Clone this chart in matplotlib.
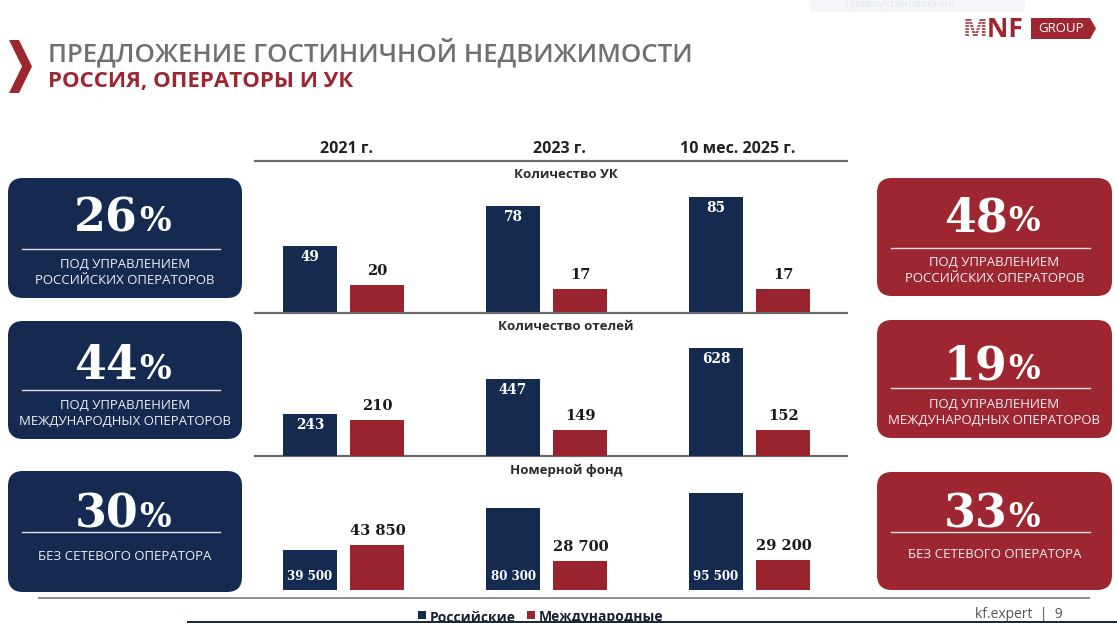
import matplotlib
matplotlib.use('Agg')
import matplotlib.pyplot as plt
from matplotlib.patches import FancyBboxPatch, Polygon, Rectangle

W, H = 1117, 623
NAVY = '#152a50'
RED = '#9e2631'
BAR_NAVY = '#142a4e'
BAR_RED = '#9a242d'
TITLE_GRAY = '#707070'
LINE_GRAY = '#6a6a6a'

# ---------------- data ----------------
years = ['2021 г.', '2023 г.', '10 мес. 2025 г.']
panel_titles = ['Количество УК', 'Количество отелей', 'Номерной фонд']
russian_uk = [49, 78, 85]
intl_uk = [20, 17, 17]
russian_hotels = [243, 447, 628]
intl_hotels = [210, 149, 152]
russian_rooms = [39500, 80300, 95500]
intl_rooms = [43850, 28700, 29200]
left_pcts = ['26', '44', '30']
left_texts = [['ПОД УПРАВЛЕНИЕМ', 'РОССИЙСКИХ ОПЕРАТОРОВ'],
              ['ПОД УПРАВЛЕНИЕМ', 'МЕЖДУНАРОДНЫХ ОПЕРАТОРОВ'],
              ['БЕЗ СЕТЕВОГО ОПЕРАТОРА']]
right_pcts = ['48', '19', '33']
right_texts = [['ПОД УПРАВЛЕНИЕМ', 'РОССИЙСКИХ ОПЕРАТОРОВ'],
               ['ПОД УПРАВЛЕНИЕМ', 'МЕЖДУНАРОДНЫХ ОПЕРАТОРОВ'],
               ['БЕЗ СЕТЕВОГО ОПЕРАТОРА']]
legend_labels = ['Российские', 'Международные']
title = 'ПРЕДЛОЖЕНИЕ ГОСТИНИЧНОЙ НЕДВИЖИМОСТИ'
subtitle = 'РОССИЯ, ОПЕРАТОРЫ И УК'
footer = 'kf.expert  |  9'

SANS = ['Open Sans', 'DejaVu Sans']
SERIF = ['DejaVu Serif']

fig = plt.figure(figsize=(W / 100, H / 100), dpi=100)
fig.patch.set_facecolor('white')

bg = fig.add_axes([0, 0, 1, 1])
bg.set_xlim(0, W)
bg.set_ylim(H, 0)
bg.axis('off')

# faint top overlay element
bg.add_patch(Rectangle((810, 0), 215, 12, color='#f4f6fa', lw=0))
bg.text(845, 4, 'Правоустановление', fontsize=8, color='#e2e6ee',
        va='center', ha='left', family=SANS)

# chevron
bg.add_patch(Polygon([(9, 40), (19, 40), (32, 66.5), (19, 93), (9, 93), (22, 66.5)],
                     closed=True, color=RED, lw=0))

# titles
bg.text(48, 53, title, fontsize=18.6, fontweight='semibold', color=TITLE_GRAY,
        ha='left', va='center', family=SANS)
bg.text(48, 82, subtitle, fontsize=16, fontweight='bold', color=RED,
        ha='left', va='center', family=SANS)

# logo
bg.text(963, 29.5, 'MNF', fontsize=19, fontweight='bold', color=RED,
        ha='left', va='center', family=SANS)
for yy in range(18, 42, 3):
    bg.plot([962, 988], [yy, yy], color='white', lw=1.0, solid_capstyle='butt',
            zorder=5)
bg.add_patch(Polygon([(1031, 18), (1090, 18), (1096, 28.5), (1090, 39), (1031, 39)],
                     closed=True, color=RED, lw=0))
bg.text(1061, 28.5, 'GROUP', fontsize=9.5, color='white', ha='center', va='center',
        family=SANS)

# separator lines
for y in (161, 313, 456):
    bg.plot([254, 848], [y, y], color=LINE_GRAY, lw=1.6, solid_capstyle='butt')
bg.plot([38, 1090], [598, 598], color='#8c8c8c', lw=1.4, solid_capstyle='butt')

# side boxes
def side_box(x, w, y0, y1, color, pct, lines, base, line_y, text_ys):
    bg.add_patch(FancyBboxPatch((x, y0), w, y1 - y0,
                                boxstyle='round,pad=0,rounding_size=15',
                                fc=color, ec='none'))
    cx = x + w / 2
    bg.text(cx + 13, base, pct, fontsize=33, fontweight='bold', color='white',
            ha='right', va='baseline', family=SERIF)
    bg.text(cx + 14, base, '%', fontsize=24, fontweight='bold', color='white',
            ha='left', va='baseline', family=SERIF)
    bg.plot([x + 14, x + w - 22], [line_y, line_y], color='#dfe3ea', lw=1.0)
    for t, ty in zip(lines, text_ys):
        bg.text(cx, ty, t, fontsize=9.5, color='#eef0f4', ha='center',
                va='center', family=SANS)

left_geo = [(178, 298, 231, 249, (264, 280)),
            (321, 439, 379, 390, (405, 421)),
            (471, 592, 527, 532, (556,))]
right_geo = [(178, 296, 231, 248, (262, 278)),
             (320, 438, 379, 388, (404, 420)),
             (472, 590, 527, 532, (554,))]
for i in range(3):
    y0, y1, b, ly, tys = left_geo[i]
    side_box(8, 234, y0, y1, NAVY, left_pcts[i], left_texts[i], b, ly, tys)
    y0, y1, b, ly, tys = right_geo[i]
    side_box(877, 235, y0, y1, RED, right_pcts[i], right_texts[i], b, ly, tys)

# column headers
header_x = [346, 559, 738]
for hx, t in zip(header_x, years):
    bg.text(hx, 149, t, fontsize=11.5, fontweight='bold', color='#222222',
            ha='center', va='center', family=SANS)

# panel titles
panel_title_y = [175, 327, 470]
for ty, t in zip(panel_title_y, panel_titles):
    bg.text(566, ty, t, fontsize=9.5, fontweight='bold', color='#2a2a2a',
            ha='center', va='center', family=SANS)

# ---------------- bar panels ----------------
def px_rect(left, top, right, bottom):
    return [left / W, 1 - bottom / H, (right - left) / W, (bottom - top) / H]

x_left, x_right = -0.442, 2.484
panels = [
    (px_rect(254, 163, 848, 312), 110.0, russian_uk, intl_uk, 'top'),
    (px_rect(254, 314, 848, 456), 826.0, russian_hotels, intl_hotels, 'top'),
    (px_rect(254, 457, 848, 590), 130400.0, russian_rooms, intl_rooms, 'bottom'),
]
off = 0.166
bw = 0.266

def fmt(v):
    return f'{v:,}'.replace(',', ' ')

for rect, ymax, rus, intl, mode in panels:
    ax = fig.add_axes(rect)
    ax.set_xlim(x_left, x_right)
    ax.set_ylim(0, ymax)
    ax.axis('off')
    ax.patch.set_alpha(0)
    xs = list(range(len(rus)))
    xr = [x - off for x in xs]
    xi = [x + off for x in xs]
    ax.bar(xr, rus, width=bw, color=BAR_NAVY, edgecolor='none')
    ax.bar(xi, intl, width=bw, color=BAR_RED, edgecolor='none')
    for x, v in zip(xr, rus):
        if mode == 'top':
            ax.annotate(fmt(v), (x, v), xytext=(0, -11), textcoords='offset pixels',
                        ha='center', va='center', fontsize=9.8, fontweight='bold',
                        color='white', family=SERIF)
        else:
            ax.annotate(fmt(v), (x, 0), xytext=(0, 13), textcoords='offset pixels',
                        ha='center', va='center', fontsize=8.6, fontweight='bold',
                        color='white', family=SERIF)
    for x, v in zip(xi, intl):
        ax.annotate(fmt(v), (x, v), xytext=(0, 14), textcoords='offset pixels',
                    ha='center', va='center', fontsize=10.5, fontweight='bold',
                    color='#1a1a1a', family=SERIF)

# legend
bg.add_patch(Rectangle((418, 611), 8, 8, color=BAR_NAVY, lw=0))
bg.text(430, 617.5, legend_labels[0], fontsize=10, fontweight='bold', color='#1a2033',
        ha='left', va='center', family=SANS)
bg.add_patch(Rectangle((527, 611), 8, 8, color=BAR_RED, lw=0))
bg.text(539, 617.5, legend_labels[1], fontsize=10, fontweight='bold', color='#1a2033',
        ha='left', va='center', family=SANS)

# footer
bg.text(1063, 615, footer, fontsize=10, color='#555555', ha='right', va='center',
        family=SANS)

# bottom dark strip (screen capture artefact)
bg.add_patch(Rectangle((187, 620.5), W - 187, 3, color='#1d2a31', lw=0, zorder=10))

fig.savefig('out.png', dpi=100, facecolor='white')
